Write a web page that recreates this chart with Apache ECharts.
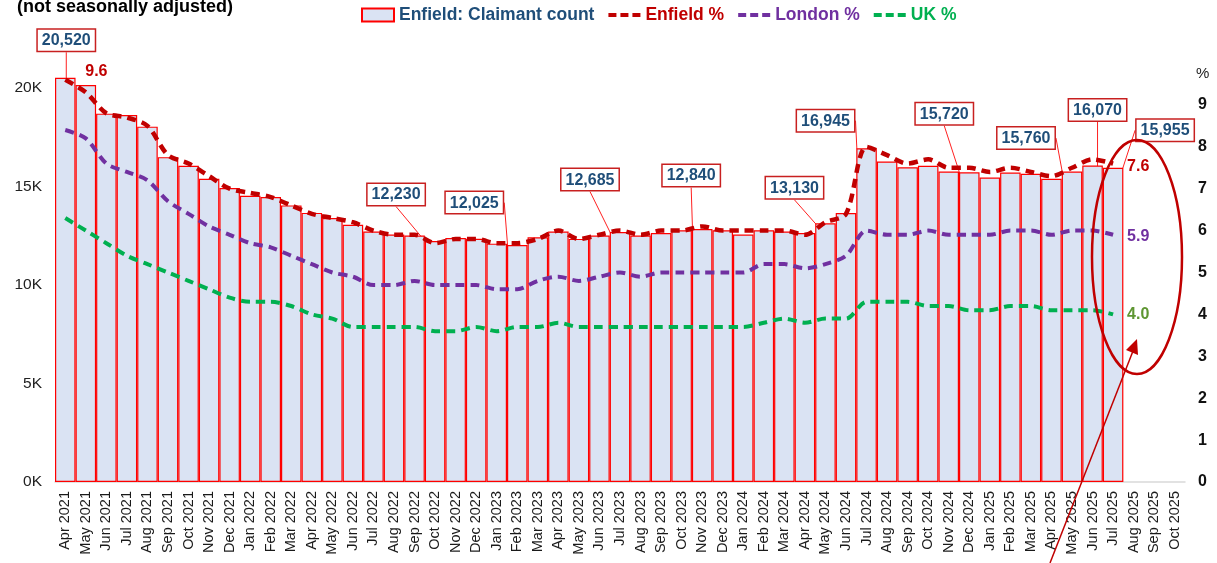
<!DOCTYPE html>
<html>
<head>
<meta charset="utf-8">
<script src="https://cdn.jsdelivr.net/npm/echarts@6/dist/echarts.min.js"></script>
<style>
  html, body { margin: 0; padding: 0; background: #fff; }
  #chart { width: 1217px; height: 563px; }
</style>
</head>
<body>
<div id="chart"></div>
<script>
// Categories (x axis runs to Oct 2025, data ends Jul 2025)
const months = [
  'Apr 2021', 'May 2021', 'Jun 2021', 'Jul 2021', 'Aug 2021', 'Sep 2021', 'Oct 2021', 'Nov 2021', 'Dec 2021',
  'Jan 2022', 'Feb 2022', 'Mar 2022', 'Apr 2022', 'May 2022', 'Jun 2022', 'Jul 2022', 'Aug 2022', 'Sep 2022',
  'Oct 2022', 'Nov 2022', 'Dec 2022', 'Jan 2023', 'Feb 2023', 'Mar 2023', 'Apr 2023', 'May 2023', 'Jun 2023',
  'Jul 2023', 'Aug 2023', 'Sep 2023', 'Oct 2023', 'Nov 2023', 'Dec 2023', 'Jan 2024', 'Feb 2024', 'Mar 2024',
  'Apr 2024', 'May 2024', 'Jun 2024', 'Jul 2024', 'Aug 2024', 'Sep 2024', 'Oct 2024', 'Nov 2024', 'Dec 2024',
  'Jan 2025', 'Feb 2025', 'Mar 2025', 'Apr 2025', 'May 2025', 'Jun 2025', 'Jul 2025', 'Aug 2025', 'Sep 2025',
  'Oct 2025'
];

// Enfield claimant count
const claimants = [
  20520, 20150, 18700, 18630, 18040, 16490, 16050, 15390, 14920,
  14530, 14470, 14040, 13660, 13400, 13060, 12720, 12560, 12510,
  12230, 12390, 12350, 12100, 12025, 12420, 12720, 12340, 12510,
  12685, 12510, 12640, 12780, 12840, 12780, 12560, 12780, 12720,
  12640, 13130, 13650, 16945, 16270, 15980, 16050, 15760, 15720,
  15460, 15710, 15650, 15390, 15760, 16070, 15955
];

// Claimant rate, %
const enfieldPct = [
  9.6, 9.3, 8.8, 8.7, 8.5, 7.8, 7.6, 7.3, 7.0,
  6.9, 6.8, 6.6, 6.4, 6.3, 6.2, 6.0, 5.9, 5.9,
  5.7, 5.8, 5.8, 5.7, 5.7, 5.8, 6.0, 5.8, 5.9,
  6.0, 5.9, 6.0, 6.0, 6.1, 6.0, 6.0, 6.0, 6.0,
  5.9, 6.2, 6.4, 8.0, 7.8, 7.6, 7.7, 7.5, 7.5,
  7.4, 7.5, 7.4, 7.3, 7.5, 7.7, 7.6
];
const londonPct = [
  8.4, 8.2, 7.6, 7.4, 7.2, 6.7, 6.4, 6.1, 5.9,
  5.7, 5.6, 5.4, 5.2, 5.0, 4.9, 4.7, 4.7, 4.8,
  4.7, 4.7, 4.7, 4.6, 4.6, 4.8, 4.9, 4.8, 4.9,
  5.0, 4.9, 5.0, 5.0, 5.0, 5.0, 5.0, 5.2, 5.2,
  5.1, 5.2, 5.4, 6.0, 5.9, 5.9, 6.0, 5.9, 5.9,
  5.9, 6.0, 6.0, 5.9, 6.0, 6.0, 5.9
];
const ukPct = [
  6.3, 6.0, 5.7, 5.4, 5.2, 5.0, 4.8, 4.6, 4.4,
  4.3, 4.3, 4.2, 4.0, 3.9, 3.7, 3.7, 3.7, 3.7,
  3.6, 3.6, 3.7, 3.6, 3.7, 3.7, 3.8, 3.7, 3.7,
  3.7, 3.7, 3.7, 3.7, 3.7, 3.7, 3.7, 3.8, 3.9,
  3.8, 3.9, 3.9, 4.3, 4.3, 4.3, 4.2, 4.2, 4.1,
  4.1, 4.2, 4.2, 4.1, 4.1, 4.1, 4.0
];

// Months whose claimant count gets a callout box
const calloutMonths = ['Apr 2021', 'Oct 2022', 'Feb 2023', 'Jul 2023', 'Nov 2023', 'May 2024',
  'Jul 2024', 'Dec 2024', 'May 2025', 'Jun 2025', 'Jul 2025'];

// callout box offsets from the bar top (layout only)
const calloutOffset = {
  'Apr 2021': [1, -22], 'Oct 2022': [-39, -31], 'Feb 2023': [-43, -27], 'Jul 2023': [-30, -37],
  'Nov 2023': [-11, -38], 'May 2024': [-31, -20], 'Jul 2024': [-41, -12], 'Dec 2024': [-25, -43],
  'May 2025': [-46, -18], 'Jun 2025': [5, -40], 'Jul 2025': [52, -22]
};

const FONT = '"Liberation Sans", Arial, sans-serif';
const RED = '#C00000', PURPLE = '#7030A0', GREEN = '#00B050', NAVY = '#1F4E79';
const DASHES = 'path://M0,0h8v4h-8z M12,0h8v4h-8z M24,0h8v4h-8z';

const barData = claimants.map((v, i) => calloutMonths.includes(months[i])
  ? { value: v, label: { show: true } }
  : v);

const chart = echarts.init(document.getElementById('chart'), null, { renderer: 'canvas' });

const option = {
  animation: false,
  textStyle: { fontFamily: FONT },
  title: {
    text: '(not seasonally adjusted)',
    left: 12,
    top: -7,
    textStyle: { fontSize: 18, fontWeight: 'bold', color: '#000', fontFamily: FONT }
  },
  legend: {
    left: 361,
    top: 6,
    padding: 0,
    itemWidth: 32,
    itemHeight: 13,
    itemGap: 14,
    textStyle: { fontSize: 17.5, fontWeight: 'bold', fontFamily: FONT },
    data: [
      { name: 'Enfield: Claimant count', icon: 'rect', textStyle: { color: NAVY } },
      { name: 'Enfield %', icon: DASHES, itemStyle: { color: RED }, textStyle: { color: RED } },
      { name: 'London %', icon: DASHES, itemStyle: { color: PURPLE }, textStyle: { color: PURPLE } },
      { name: 'UK %', icon: DASHES, itemStyle: { color: GREEN }, textStyle: { color: GREEN } }
    ]
  },
  grid: { left: 55, right: 32, top: 63, bottom: 81 },
  xAxis: {
    type: 'category',
    data: months,
    axisTick: { show: false },
    axisLine: { lineStyle: { color: '#D9D9D9', width: 1.5 } },
    axisLabel: { interval: 0, rotate: 90, fontSize: 14.5, color: '#1a1a1a', margin: 9, fontFamily: FONT }
  },
  yAxis: [
    {
      type: 'value',
      min: 0,
      max: 21270,
      interval: 5000,
      splitLine: { show: false },
      axisLine: { show: false },
      axisTick: { show: false },
      axisLabel: {
        fontSize: 15.5, color: '#222', margin: 13, fontFamily: FONT,
        formatter: v => (v % 5000 === 0 ? (v / 1000) + 'K' : '')
      }
    },
    {
      type: 'value',
      min: 0,
      max: 10,
      interval: 1,
      name: '%',
      nameLocation: 'end',
      nameGap: -11,
      nameTextStyle: { color: '#222', fontSize: 15, align: 'left', verticalAlign: 'middle', padding: [0, 0, 0, 11], fontFamily: FONT },
      splitLine: { show: false },
      axisLine: { show: false },
      axisTick: { show: false },
      axisLabel: {
        fontSize: 16, fontWeight: 'bold', color: '#111', margin: 13, fontFamily: FONT,
        formatter: v => (v === 10 ? '' : String(v))
      }
    }
  ],
  series: [
    {
      name: 'Enfield: Claimant count',
      type: 'bar',
      data: barData,
      barCategoryGap: '0%',
      itemStyle: { color: '#DAE3F3', borderColor: '#FF0000', borderWidth: 1.2 },
      label: {
        show: false,
        position: 'top',
        distance: 5,
        formatter: p => p.value.toLocaleString('en-US'),
        color: NAVY,
        fontSize: 16,
        fontWeight: 'bold',
        fontFamily: FONT,
        backgroundColor: '#fff',
        borderColor: '#C82020',
        borderWidth: 1.5,
        padding: [3, 4, 2, 4]
      },
      labelLine: { show: true, lineStyle: { color: '#FF2020', width: 1 } },
      labelLayout: p => {
        const off = calloutOffset[months[p.dataIndex]];
        return off ? { dx: off[0], dy: off[1] } : {};
      },
      emphasis: { disabled: true }
    },
    {
      name: 'Enfield %',
      type: 'line',
      yAxisIndex: 1,
      data: enfieldPct,
      smooth: 0.3,
      symbol: 'none',
      lineStyle: { color: RED, width: 4.5, type: [9, 6] },
      itemStyle: { color: RED },
      endLabel: {
        show: true, formatter: p => p.value.toFixed(1), color: RED,
        fontSize: 16, fontWeight: 'bold', distance: 14, offset: [0, 3], fontFamily: FONT
      },
      markPoint: {
        symbol: 'circle',
        symbolSize: 0,
        data: [{ coord: [0, enfieldPct[0]], value: enfieldPct[0] }],
        label: {
          show: true, position: 'right', distance: 20, offset: [0, -8],
          formatter: p => p.value.toFixed(1), color: RED, fontSize: 16, fontWeight: 'bold', fontFamily: FONT
        }
      },
      z: 3
    },
    {
      name: 'London %',
      type: 'line',
      yAxisIndex: 1,
      data: londonPct,
      smooth: 0.3,
      symbol: 'none',
      lineStyle: { color: PURPLE, width: 4, type: [9, 6] },
      itemStyle: { color: PURPLE },
      endLabel: {
        show: true, formatter: p => p.value.toFixed(1), color: PURPLE,
        fontSize: 16, fontWeight: 'bold', distance: 14, offset: [0, 2], fontFamily: FONT
      },
      z: 3
    },
    {
      name: 'UK %',
      type: 'line',
      yAxisIndex: 1,
      data: ukPct,
      smooth: 0.3,
      symbol: 'none',
      lineStyle: { color: GREEN, width: 4, type: [9, 6] },
      itemStyle: { color: GREEN },
      endLabel: {
        show: true, formatter: p => p.value.toFixed(1), color: '#5E9632',
        fontSize: 16, fontWeight: 'bold', distance: 14, offset: [0, 0], fontFamily: FONT
      },
      z: 3
    }
  ],
  graphic: [
    {
      type: 'ellipse',
      shape: { cx: 1137, cy: 257, rx: 45, ry: 117 },
      style: { fill: 'none', stroke: RED, lineWidth: 2.5 },
      z: 100
    },
    {
      type: 'line',
      shape: { x1: 1050, y1: 563, x2: 1133, y2: 351 },
      style: { stroke: RED, lineWidth: 1.5 },
      z: 100
    },
    {
      type: 'polygon',
      shape: { points: [[1137, 339], [1138, 355], [1126, 350]] },
      style: { fill: RED },
      z: 100
    }
  ]
};

chart.setOption(option);
</script>
</body>
</html>
